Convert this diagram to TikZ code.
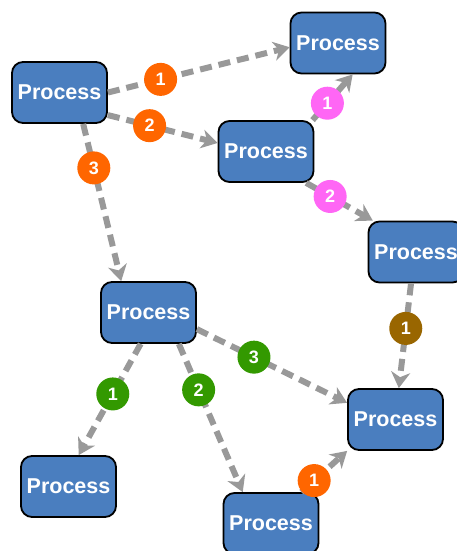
\documentclass[tikz,border=0pt]{standalone}
\usepackage{fontspec}
\setmainfont{Liberation Sans}
\usetikzlibrary{arrows.meta}
\definecolor{boxblue}{HTML}{4A7EBF}
\definecolor{edgegray}{HTML}{999999}
\definecolor{lorange}{HTML}{FF6600}
\definecolor{lpink}{HTML}{FF66F5}
\definecolor{lbrown}{HTML}{996600}
\definecolor{lgreen}{HTML}{339900}
\tikzset{
  proc/.style={draw=black, line width=1.8pt, fill=boxblue, rounded corners=11pt,
    minimum width=95pt, minimum height=61pt, inner sep=0pt, text=white,
    font=\fontsize{21.5}{24}\selectfont\bfseries},
  conn/.style={draw=edgegray, line width=6pt, dash pattern=on 12pt off 7pt,
    -{Stealth[length=16pt,width=19pt,inset=5pt]}},
  lab/.style={circle, fill=#1, minimum size=33pt, inner sep=0pt, text=white,
    font=\fontsize{18}{20}\selectfont\bfseries},
}
\begin{document}
\begin{tikzpicture}[x=1pt,y=-1pt]
\useasboundingbox (0,0) rectangle (457,551);
\fill[white] (0,0) rectangle (457,551);
\node[proc] (A) at (59.5,92.5) {Process};
\node[proc] (B) at (338,43) {Process};
\node[proc] (C) at (266,151.5) {Process};
\node[proc] (D) at (416,252) {Process};
\node[proc] (E) at (148.5,312.5) {Process};
\node[proc] (F) at (395.5,419.5) {Process};
\node[proc] (G) at (68.5,486.5) {Process};
\node[proc] (H) at (271,523.5) {Process};

\draw[conn] (A.east) -- node[pos=0.29, lab=lorange] (l1) {1} (B.185);
\draw[conn] (A.-25) -- node[pos=0.38, lab=lorange] (l2) {2} (C.170);
\draw[conn] (A.-53) -- node[pos=0.28, lab=lorange] (l3) {3} (E.131);
\draw[conn] (C.34) -- node[pos=0.37, lab=lpink] (l4) {1} (B.-65);
\draw[conn] (C.-38) -- node[pos=0.36, lab=lpink] (l5) {2} (D.144);
\draw[conn] (D.-99) -- node[pos=0.43, lab=lbrown] (l6) {1} (F.84);
\draw[conn] (E.-104) -- node[pos=0.45, lab=lgreen] (l7) {1} (G.72);
\draw[conn] (E.-46) -- node[pos=0.31, lab=lgreen] (l8) {2} (H.132);
\draw[conn] (E.-19) -- node[pos=0.38, lab=lgreen] (l9) {3} (F.161);
\draw[conn] (H.46) -- node[pos=0.28, lab=lorange] (l10) {1} (F.213);
\end{tikzpicture}
\end{document}
